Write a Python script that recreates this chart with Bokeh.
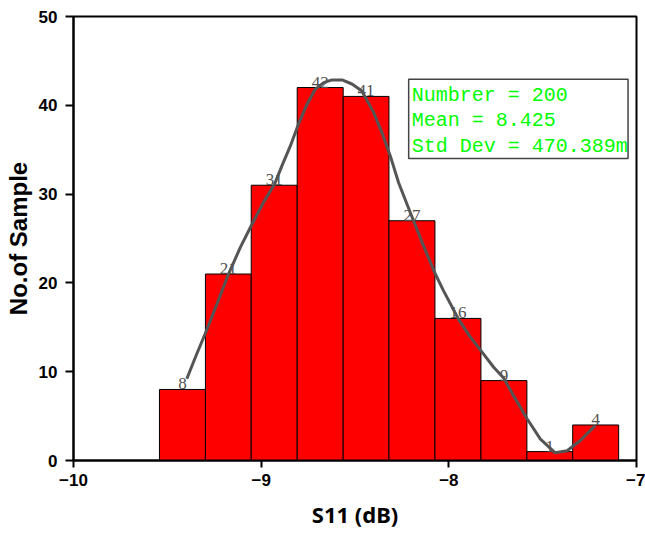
import numpy as np
from bokeh.plotting import figure
from bokeh.models import FixedTicker, Label, ColumnDataSource
from bokeh.core.properties import value
from bokeh.embed import file_html
from bokeh.resources import INLINE

# ---- data ----
bin_edges = [-9.542, -9.297, -9.053, -8.808, -8.563, -8.319, -8.074, -7.829, -7.584, -7.340, -7.095]
counts = [8, 21, 31, 42, 41, 27, 16, 9, 1, 4]

curve_x = [-9.396, -9.351, -9.298, -9.236, -9.174, -9.111, -9.049, -8.987, -8.929, -8.889,
           -8.845, -8.801, -8.756, -8.712, -8.667, -8.623, -8.569, -8.516, -8.463, -8.401,
           -8.356, -8.312, -8.268, -8.205, -8.143, -8.072, -8.028, -7.948, -7.885, -7.823,
           -7.761, -7.708, -7.655, -7.583, -7.512, -7.433, -7.370, -7.299, -7.219]
curve_y = [9.2, 11.6, 14.3, 17.6, 21.0, 24.0, 26.6, 29.1, 31.1, 33.2,
           35.4, 37.9, 40.1, 41.8, 42.55, 42.86, 42.86, 42.4, 41.6, 39.2,
           36.9, 34.3, 31.3, 27.9, 24.6, 21.0, 19.1, 15.9, 13.9, 12.2,
           10.5, 9.3, 7.3, 4.7, 2.4, 0.87, 1.1, 2.25, 3.94]

x_ticks = [-10, -9, -8, -7]
x_tick_labels = ["\u221210", "\u22129", "\u22128", "\u22127"]
y_ticks = [0, 10, 20, 30, 40, 50]

stats_lines = ["Numbrer = 200", "Mean = 8.425", "Std Dev = 470.389m"]

# ---- figure ----
p = figure(width=645, height=533, x_range=(-10, -7), y_range=(0, 50),
           output_backend="svg", toolbar_location=None,
           min_border_left=73, min_border_right=9, min_border_top=16, min_border_bottom=73)

p.background_fill_color = "white"
p.border_fill_color = "white"
p.outline_line_color = "black"
p.outline_line_width = 2
p.xgrid.visible = False
p.ygrid.visible = False

edges = np.array(bin_edges)
lefts = edges[:-1]
rights = edges[1:]
centers = (lefts + rights) / 2

src = ColumnDataSource(dict(left=lefts, right=rights, top=counts, bottom=[0] * len(counts),
                            cx=centers, lbl=[str(c) for c in counts]))
p.quad(left="left", right="right", top="top", bottom="bottom", source=src,
       fill_color="#FF0000", line_color="black", line_width=1)

p.text(x="cx", y="top", text="lbl", source=src, text_align="center", text_baseline="bottom",
       text_font=value("Liberation Serif"), text_font_size="17px", text_color="#505050")

p.line(curve_x, curve_y, line_color="#555555", line_width=3)

# stats box
p.quad(left=[-8.214], right=[-7.045], top=[42.94], bottom=[34.0],
       fill_color="white", line_color="#444444", line_width=1.5)
for i, (t, yy) in enumerate(zip(stats_lines, [41.1, 38.25, 35.4])):
    p.add_layout(Label(x=-8.198, y=yy, text=t, text_font="Liberation Mono",
                       text_font_size="20px", text_color="#00FF00",
                       text_baseline="alphabetic", text_align="left"))

# axes
for ax in (p.xaxis[0], p.yaxis[0]):
    ax.axis_line_width = 2
    ax.axis_line_color = "black"
    ax.major_tick_line_width = 2
    ax.major_tick_line_color = "black"
    ax.major_tick_in = 0
    ax.minor_tick_line_color = None
    ax.major_label_text_font = "Liberation Sans"
    ax.major_label_text_font_style = "bold"
    ax.major_label_text_font_size = "17px"
    ax.major_label_text_color = "black"
    ax.axis_label_text_font_style = "bold"
    ax.axis_label_text_color = "black"

p.xaxis.axis_label_text_font = "Noto Sans"
p.xaxis.axis_label_text_font_size = "22px"
p.yaxis.axis_label_text_font = "Liberation Sans"
p.yaxis.axis_label_text_font_size = "24px"

p.xaxis.ticker = FixedTicker(ticks=x_ticks)
p.xaxis.major_label_overrides = {t: l for t, l in zip(x_ticks, x_tick_labels)}
p.yaxis.ticker = FixedTicker(ticks=y_ticks)
p.xaxis.major_tick_out = 7
p.yaxis.major_tick_out = 8
p.xaxis.major_label_standoff = 6
p.yaxis.major_label_standoff = 8
p.xaxis.axis_label = "S11 (dB)"
p.yaxis.axis_label = "No.of Sample"
p.xaxis.axis_label_standoff = 10
p.yaxis.axis_label_standoff = 4

open("out.html", "w").write(file_html(p, INLINE))
